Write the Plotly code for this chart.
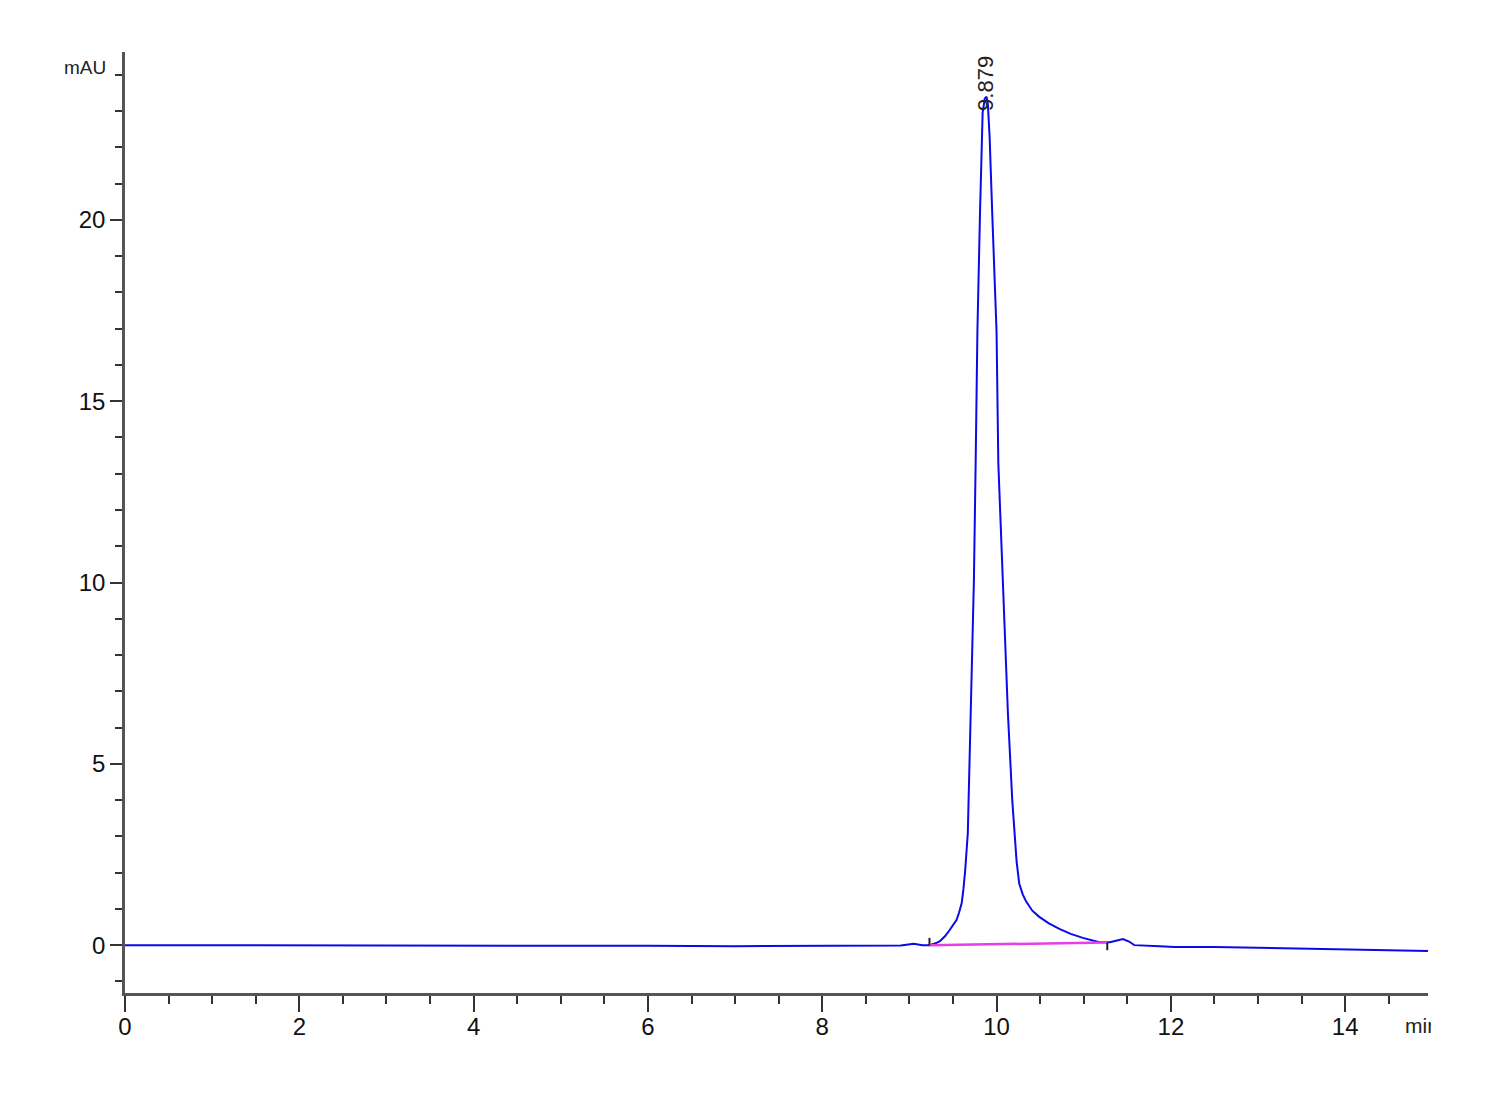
import plotly.graph_objects as go

# Chromatogram trace (time in min, absorbance in mAU)
time_min = [0, 0.5, 1, 2, 3, 4, 5, 5.8, 6, 7, 8, 8.5, 8.9, 9.05, 9.15, 9.23,
            9.30, 9.35, 9.41, 9.46, 9.50, 9.54, 9.57, 9.60, 9.62, 9.64, 9.67,
            9.70, 9.74, 9.76, 9.78, 9.81, 9.84, 9.865, 9.885, 9.90, 9.92,
            9.95, 10.0, 10.02, 10.07, 10.13, 10.18, 10.21, 10.23, 10.26,
            10.30, 10.34, 10.41, 10.49, 10.60, 10.72, 10.85, 10.99, 11.18,
            11.30, 11.38, 11.45, 11.52, 11.58, 11.87, 12.04, 12.5, 13.0, 13.5,
            14.0, 14.5, 14.95]
signal_mau = [0, 0, 0, -0.01, -0.02, -0.02, -0.02, 0, -0.02, -0.03, -0.03,
              -0.02, -0.01, 0.04, 0.0, 0.0,
              0.05, 0.11, 0.25, 0.41, 0.55, 0.69, 0.9, 1.16, 1.55, 2.07, 3.09,
              6.4, 10.07, 13.3, 16.9, 20.2, 22.95, 23.35, 23.4, 23.2, 22.3,
              20.2, 16.9, 13.3, 10.07, 6.4, 4.0, 3.09, 2.3, 1.7,
              1.4, 1.2, 0.95, 0.78, 0.6, 0.45, 0.31, 0.2, 0.08,
              0.08, 0.12, 0.17, 0.1, 0.0, -0.03, -0.05, -0.05, -0.07, -0.09,
              -0.11, -0.13, -0.165]

# Integration baseline (start / end)
baseline_time = [9.23, 11.27]
baseline_mau = [0.0, 0.07]
# Integration event tick marks (start tick above, end tick below)
event_tick_time = [9.23, 9.23, None, 11.27, 11.27]
event_tick_mau = [0.0, 0.2, None, 0.07, -0.14]

peak_rt = 9.879
peak_label = "9.879"
peak_label_y = 23.75

x_range = [0, 14.95]
y_range = [-1.32, 24.63]

TICK_FONT = "Liberation Sans, Arial, sans-serif"

fig = go.Figure()
fig.add_trace(go.Scatter(x=time_min, y=signal_mau, mode="lines",
                         line=dict(color="#0a0ae8", width=2), hoverinfo="skip"))
fig.add_trace(go.Scatter(x=baseline_time, y=baseline_mau, mode="lines",
                         line=dict(color="#e83ee8", width=2.5), hoverinfo="skip"))
fig.add_trace(go.Scatter(x=event_tick_time, y=event_tick_mau, mode="lines",
                         line=dict(color="#222222", width=2), hoverinfo="skip"))

fig.add_annotation(x=peak_rt, y=peak_label_y, text=peak_label, textangle=-90,
                   showarrow=False, xanchor="center", yanchor="middle",
                   font=dict(family="Liberation Sans, Arial, sans-serif", size=22, color="#222222"))
fig.add_annotation(x=-0.013, y=0.984, xref="paper", yref="paper", text="mAU",
                   showarrow=False, xanchor="right", yanchor="middle",
                   font=dict(family=TICK_FONT, size=19, color="#222222"))
fig.add_annotation(x=0.981, y=-0.035, xref="paper", yref="paper", text="min",
                   showarrow=False, xanchor="left", yanchor="middle", width=26, align="left",
                   font=dict(family=TICK_FONT, size=21, color="#222222"))

fig.update_layout(
    width=1500, height=1100,
    margin=dict(l=117, r=80, t=44, b=115),
    plot_bgcolor="white", paper_bgcolor="white",
    showlegend=False,
    xaxis=dict(range=x_range, showgrid=False, zeroline=False, showline=True,
               linecolor="#555555", linewidth=2.5, ticks="outside", ticklen=16,
               tickwidth=2, tickcolor="#333333", dtick=2, tick0=0,
               ticklabelstandoff=-6,
               tickfont=dict(family=TICK_FONT, size=24, color="#111111"),
               minor=dict(dtick=0.5, ticklen=8, tickwidth=2, tickcolor="#333333",
                          ticks="outside", showgrid=False)),
    yaxis=dict(range=y_range, showgrid=False, zeroline=False, showline=True,
               linecolor="#555555", linewidth=2.5, ticks="outside", ticklen=12,
               tickwidth=2, tickcolor="#333333", dtick=5, tick0=0,
               tickfont=dict(family=TICK_FONT, size=24, color="#111111"),
               minor=dict(dtick=1, ticklen=7, tickwidth=2, tickcolor="#333333",
                          ticks="outside", showgrid=False)),
)

fig.write_html("out.html")
